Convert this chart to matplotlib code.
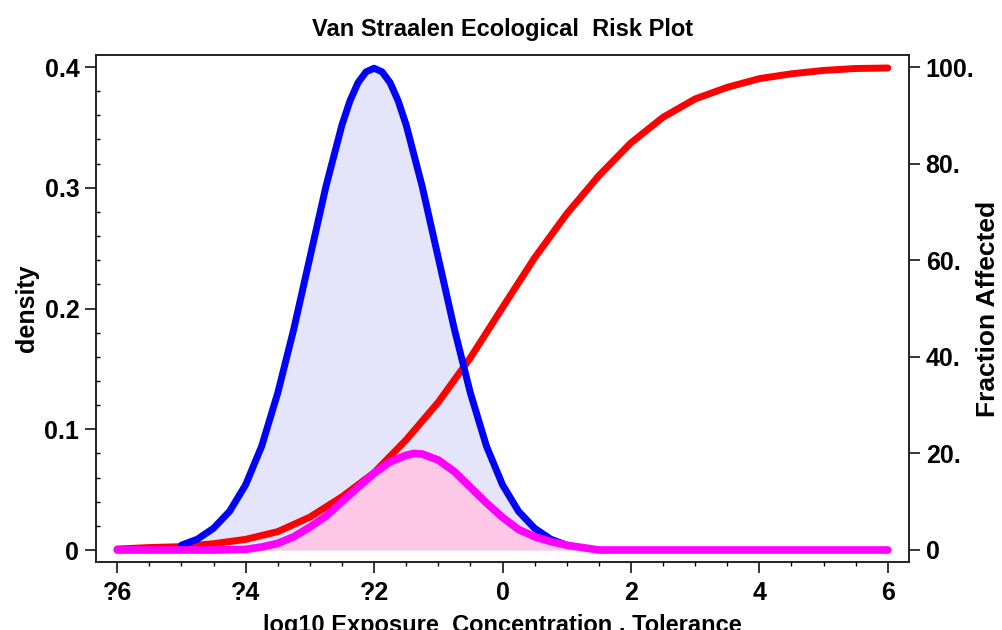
import matplotlib
matplotlib.use("Agg")
import matplotlib.pyplot as plt
from matplotlib.ticker import MultipleLocator

plt.rcParams['font.family'] = ['Liberation Sans', 'DejaVu Sans']
plt.rcParams['font.weight'] = 'bold'

# exposure density (blue)
x_exp = [-5.0, -4.75, -4.5, -4.25, -4.0, -3.75, -3.5, -3.25, -3.0, -2.75, -2.5,
         -2.375, -2.25, -2.125, -2.0, -1.875, -1.75, -1.625, -1.5, -1.25, -1.0,
         -0.75, -0.5, -0.25, 0.0, 0.25, 0.5, 0.75, 1.0]
d_exp = [0.004, 0.009, 0.018, 0.032, 0.054, 0.086, 0.130, 0.183, 0.242, 0.301,
         0.352, 0.372, 0.387, 0.396, 0.399, 0.396, 0.387, 0.372, 0.352, 0.301,
         0.242, 0.183, 0.130, 0.086, 0.054, 0.032, 0.018, 0.009, 0.004]

# fraction affected (red, right axis, %)
x_frac = [-6.0, -5.5, -5.0, -4.5, -4.0, -3.5, -3.0, -2.5, -2.0, -1.5, -1.0, -0.5,
          0.0, 0.5, 1.0, 1.5, 2.0, 2.5, 3.0, 3.5, 4.0, 4.5, 5.0, 5.5, 6.0]
frac = [0.2, 0.5, 0.7, 1.3, 2.2, 3.8, 6.8, 11.0, 16.0, 22.8, 30.6, 39.8,
        50.2, 60.5, 69.6, 77.5, 84.3, 89.6, 93.4, 95.8, 97.6, 98.6, 99.3, 99.7, 99.8]

# risk density (magenta)
x_risk = [-6.0, -5.5, -5.0, -4.5, -4.0, -3.75, -3.5, -3.25, -3.0, -2.75, -2.5,
          -2.25, -2.0, -1.75, -1.5, -1.375, -1.25, -1.0, -0.75, -0.5, -0.25, 0.0,
          0.25, 0.5, 0.75, 1.0, 1.25, 1.5, 2.0, 3.0, 4.0, 5.0, 6.0]
d_risk = [0.0, 0.0, 0.0, 0.0, 0.0005, 0.0025, 0.0055, 0.011, 0.019, 0.028, 0.040,
          0.052, 0.0635, 0.073, 0.0785, 0.080, 0.0795, 0.0745, 0.065, 0.052, 0.039,
          0.027, 0.017, 0.011, 0.007, 0.004, 0.002, 0.0, 0.0, 0.0, 0.0, 0.0, 0.0]

xticks = [-6, -4, -2, 0, 2, 4, 6]
xticklabels = ['?6', '?4', '?2', '0', '2', '4', '6']
yticks = [0, 0.1, 0.2, 0.3, 0.4]
yticklabels = ['0', '0.1', '0.2', '0.3', '0.4']
y2ticks = [0, 20, 40, 60, 80, 100]
y2ticklabels = ['0', '20.', '40.', '60.', '80.', '100.']

fig = plt.figure(figsize=(10.03, 6.3), dpi=100)
ax = fig.add_axes([0.0957, 0.108, 0.8106, 0.8046])
ax2 = ax.twinx()
ax.set_zorder(ax2.get_zorder() + 1)
ax.patch.set_visible(False)

ax.set_xlim(-6.33, 6.33)
ax.set_ylim(-0.0099, 0.4099)
ax2.set_ylim(-2.48, 102.48)

ax.fill_between(x_exp, d_exp, 0, color='#e4e4fa', lw=0, zorder=1)
ax.fill_between(x_risk, d_risk, 0, color='#fdc8e6', lw=0, zorder=1.1)
# red curve uses the right axis scale, drawn within ax so layering matches
ax.plot(x_frac, frac, color='#ff0000', lw=5, solid_capstyle='round',
        transform=ax2.transData, zorder=2)
ax.plot(x_exp, d_exp, color='#0000ff', lw=5, solid_capstyle='round', zorder=3)
ax.plot(x_risk, d_risk, color='#ff00ff', lw=5.5, solid_capstyle='round', zorder=4)

ax.set_xticks(xticks)
ax.set_xticklabels(xticklabels)
ax.set_yticks(yticks)
ax.set_yticklabels(yticklabels)
ax2.set_yticks(y2ticks)
ax2.set_yticklabels(y2ticklabels)
ax.xaxis.set_minor_locator(MultipleLocator(0.5))
ax.yaxis.set_minor_locator(MultipleLocator(0.02))

ax.tick_params(axis='both', which='major', direction='out', length=8, width=1.1,
               labelsize=18, pad=4)
ax.tick_params(axis='x', which='minor', direction='out', length=3, width=1)
ax.tick_params(axis='y', which='minor', direction='in', length=3, width=1)
ax.tick_params(axis='x', pad=6)
ax2.tick_params(axis='y', which='major', direction='out', length=8, width=1.1,
                labelsize=18, pad=4)
for a in (ax, ax2):
    for s in a.spines.values():
        s.set_linewidth(1.2)
        s.set_color('#222222')

ax.set_title('Van Straalen Ecological  Risk Plot', fontsize=17, fontweight='bold', pad=14)
ax.set_ylabel('density', fontsize=18, fontweight='bold', labelpad=4)
ax2.set_ylabel('Fraction Affected', fontsize=19, fontweight='bold', labelpad=1)
ax.set_xlabel('log10 Exposure  Concentration , Tolerance', fontsize=17,
              fontweight='bold', labelpad=6)

fig.savefig('out.png', dpi=100)
